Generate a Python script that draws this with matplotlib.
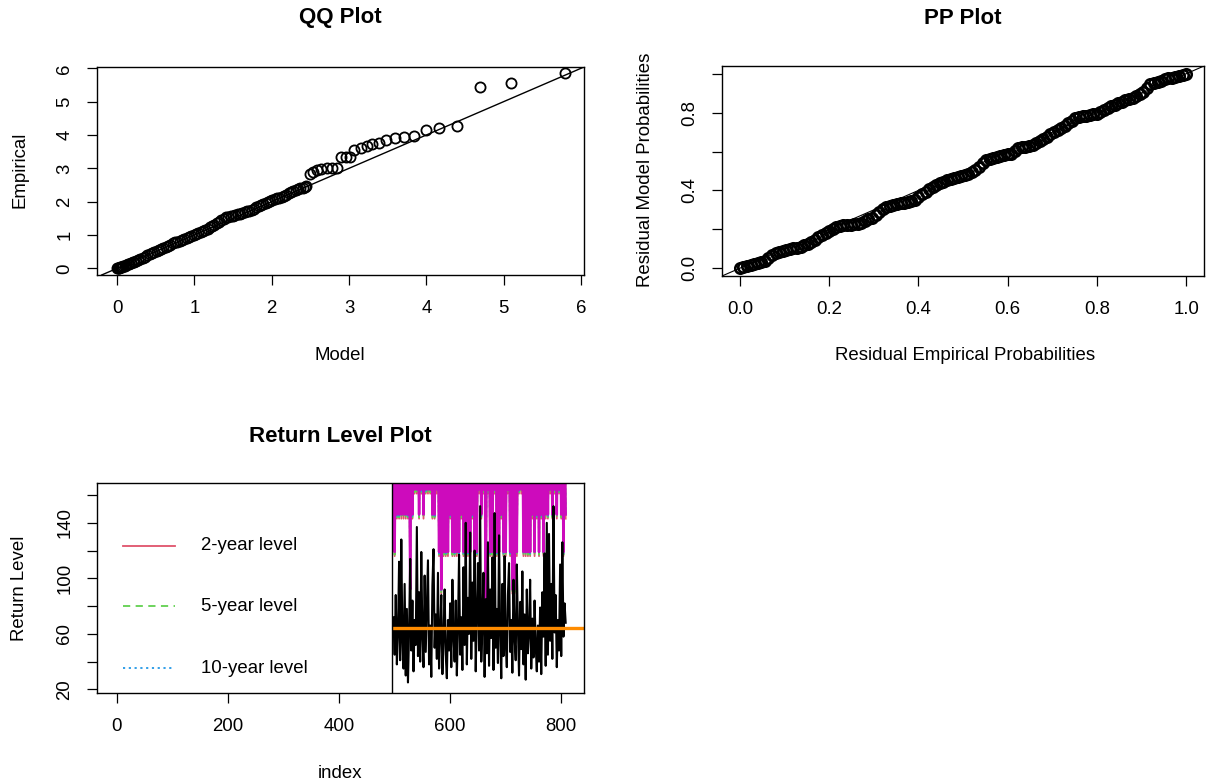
import numpy as np
import matplotlib
matplotlib.use("Agg")
import matplotlib.pyplot as plt
from matplotlib.patches import Rectangle

plt.rcParams['font.family'] = ['Liberation Sans', 'DejaVu Sans']

# ---------------- data ----------------
qq_model = [0.00, 0.01, 0.02, 0.03, 0.04, 0.05, 0.06,
            0.08, 0.10, 0.12, 0.14, 0.16, 0.18, 0.20, 0.22, 0.24,
            0.27, 0.30, 0.33, 0.36, 0.39, 0.42, 0.45, 0.48, 0.51, 0.54,
            0.57, 0.60, 0.63, 0.66, 0.69, 0.72, 0.75, 0.78, 0.81, 0.84,
            0.87, 0.90, 0.93, 0.96, 0.99, 1.02, 1.05, 1.08, 1.11, 1.14,
            1.17, 1.20, 1.23, 1.26, 1.29, 1.32, 1.35, 1.38, 1.41, 1.44,
            1.47, 1.50, 1.53, 1.56, 1.59, 1.62, 1.65, 1.68, 1.71, 1.74,
            1.77, 1.80, 1.83, 1.86, 1.89, 1.92, 1.95, 1.98, 2.01, 2.04,
            2.07, 2.10, 2.13, 2.16, 2.19, 2.22, 2.25, 2.28, 2.31, 2.34,
            2.37, 2.40, 2.43, 2.45,
            2.49, 2.53, 2.58, 2.64, 2.71, 2.78, 2.84, 2.90, 2.96, 3.01,
            3.07, 3.15, 3.23, 3.30, 3.39, 3.48, 3.59, 3.71, 3.84, 4.00,
            4.17, 4.40, 4.69, 5.10, 5.79]
qq_empirical = [0.00, 0.00, 0.01, 0.02, 0.03, 0.04, 0.05,
                0.07, 0.08, 0.10, 0.12, 0.14, 0.16, 0.18, 0.20, 0.23,
                0.26, 0.29, 0.32, 0.35, 0.39, 0.43, 0.46, 0.50, 0.53, 0.56,
                0.59, 0.62, 0.65, 0.68, 0.71, 0.75, 0.78, 0.80, 0.83, 0.86,
                0.88, 0.91, 0.95, 0.98, 1.01, 1.04, 1.07, 1.10, 1.13, 1.16,
                1.19, 1.23, 1.27, 1.31, 1.35, 1.39, 1.44, 1.49, 1.53, 1.55,
                1.57, 1.58, 1.60, 1.62, 1.64, 1.66, 1.69, 1.71, 1.73, 1.76,
                1.79, 1.83, 1.87, 1.90, 1.93, 1.97, 1.99, 2.02, 2.05, 2.08,
                2.10, 2.12, 2.14, 2.17, 2.21, 2.25, 2.28, 2.31, 2.34, 2.37,
                2.40, 2.42, 2.44, 2.46,
                2.84, 2.89, 2.96, 2.99, 3.00, 3.01, 3.02, 3.33, 3.34, 3.34,
                3.56, 3.62, 3.66, 3.74, 3.76, 3.86, 3.91, 3.94, 3.96, 4.14,
                4.21, 4.27, 5.45, 5.56, 5.85]

pp_empirical = [0.000, 0.008, 0.016, 0.024, 0.032, 0.040, 0.048, 0.056, 0.064, 0.072,
                0.080, 0.088, 0.096, 0.104, 0.112, 0.120, 0.128, 0.136, 0.144, 0.152,
                0.160, 0.168, 0.176, 0.184, 0.192, 0.200, 0.208, 0.216, 0.224, 0.232,
                0.240, 0.248, 0.256, 0.264, 0.272, 0.280, 0.288, 0.296, 0.304, 0.312,
                0.320, 0.328, 0.336, 0.344, 0.352, 0.360, 0.368, 0.376, 0.384, 0.392,
                0.400, 0.408, 0.416, 0.424, 0.432, 0.440, 0.448, 0.456, 0.464, 0.472,
                0.480, 0.488, 0.496, 0.504, 0.512, 0.520, 0.528, 0.536, 0.544, 0.552,
                0.560, 0.568, 0.576, 0.584, 0.592, 0.600, 0.608, 0.616, 0.624, 0.632,
                0.640, 0.648, 0.656, 0.664, 0.672, 0.680, 0.688, 0.696, 0.704, 0.712,
                0.720, 0.728, 0.736, 0.744, 0.752, 0.760, 0.768, 0.776, 0.784, 0.792,
                0.800, 0.808, 0.816, 0.824, 0.832, 0.840, 0.848, 0.856, 0.864, 0.872,
                0.880, 0.888, 0.896, 0.904, 0.912, 0.920, 0.928, 0.936, 0.944, 0.952,
                0.960, 0.968, 0.976, 0.984, 0.992, 1.000]
pp_model = [0.000, 0.005, 0.010, 0.016, 0.021, 0.027, 0.033, 0.039, 0.052, 0.069,
            0.076, 0.083, 0.090, 0.096, 0.099, 0.102, 0.104, 0.109, 0.118, 0.127,
            0.137, 0.147, 0.161, 0.172, 0.182, 0.191, 0.200, 0.210, 0.218, 0.220,
            0.222, 0.224, 0.226, 0.228, 0.234, 0.242, 0.251, 0.260, 0.275, 0.290,
            0.304, 0.316, 0.320, 0.325, 0.330, 0.334, 0.338, 0.343, 0.348, 0.353,
            0.366, 0.380, 0.393, 0.405, 0.417, 0.429, 0.438, 0.445, 0.452, 0.458,
            0.463, 0.467, 0.472, 0.477, 0.486, 0.496, 0.506, 0.519, 0.543, 0.557,
            0.562, 0.566, 0.571, 0.575, 0.580, 0.585, 0.590, 0.605, 0.616, 0.621,
            0.625, 0.630, 0.636, 0.645, 0.655, 0.665, 0.677, 0.688, 0.699, 0.710,
            0.722, 0.733, 0.745, 0.757, 0.771, 0.779, 0.782, 0.785, 0.788, 0.792,
            0.795, 0.804, 0.813, 0.822, 0.832, 0.841, 0.849, 0.856, 0.863, 0.870,
            0.878, 0.886, 0.896, 0.906, 0.926, 0.946, 0.952, 0.958, 0.965, 0.971,
            0.976, 0.980, 0.985, 0.990, 0.995, 1.000]

# Return-level panel: observed series (every 2nd index from 498)
rl_start = 498
rl_series = [72, 45, 88, 38, 60, 112, 41, 128, 55, 35,
             96, 30, 78, 25, 62, 114, 48, 84, 33, 70,
             52, 137, 44, 90, 40, 119, 58, 36, 102, 47,
             80, 113, 38, 66, 29, 95, 121, 50, 74, 42,
             104, 35, 60, 88, 31, 56, 92, 45, 28, 70,
             48, 82, 36, 99, 58, 40, 84, 30, 63, 117,
             45, 72, 34, 108, 52, 140, 38, 86, 60, 133,
             42, 97, 55, 120, 33, 76, 111, 48, 152, 40,
             68, 104, 29, 85, 46, 126, 37, 92, 57, 115,
             34, 147, 50, 78, 39, 131, 62, 28, 96, 44,
             116, 55, 36, 88, 111, 47, 70, 32, 99, 58,
             41, 110, 64, 30, 83, 49, 105, 38, 74, 27,
             92, 46, 60, 99, 35, 71, 43, 84, 52, 33,
             66, 40, 79, 31, 90, 58, 118, 37, 140, 45,
             132, 55, 96, 42, 152, 61, 88, 36, 70, 48,
             110, 44, 126, 58, 82, 68]
threshold = 64.5

# covariate state of the effective return levels at each step
rl_state = [int(c) for c in (
    "0302020202020204" "020101020102" "010101020201" "0304030"
    "30302030303030203030303020303" "01020105010" "303010303020303"
    "010304040301010" "303030302" "030203020302" "020102010201020302")]
level_2yr = [215, 161, 143, 116, 89, 69]
level_5yr = [216, 162, 144, 117, 90, 70]
level_10yr = [217, 163, 145, 118, 91, 71]
level_top = [218, 164, 146, 119, 92, 72]

legend_labels = ["2-year level", "5-year level", "10-year level"]

# ---------------- figure ----------------
W, H = 1206, 782
fig = plt.figure(figsize=(W / 100, H / 100), dpi=100)


def px_axes(l, t, r, b):
    return fig.add_axes([l / W, 1 - b / H, (r - l) / W, (b - t) / H])


FS = 13.4
TFS = 16


def style(ax):
    for s in ax.spines.values():
        s.set_linewidth(1.0)
    ax.tick_params(length=7, width=0.9, labelsize=FS, pad=10)
    ax.tick_params(axis='x', pad=11)
    for lbl in ax.get_yticklabels():
        lbl.set_rotation(90)
        lbl.set_va('center')


# QQ
ax1 = px_axes(97, 67, 584, 275)
ax1.plot(qq_model, qq_empirical, 'o', mfc='none', mec='black', ms=7.3, mew=1.3)
ax1.axline((0, 0), slope=1, color='black', lw=1.0)
ax1.set_xlim(-0.26, 6.04)
ax1.set_ylim(-0.2, 6.04)
ax1.set_xticks(range(7))
ax1.set_yticks(range(7))
style(ax1)

# PP
ax2 = px_axes(722, 66, 1204, 276)
ax2.plot(pp_empirical, pp_model, 'o', mfc='none', mec='black', ms=7.5, mew=1.9)
ax2.axline((0, 0), slope=1, color='black', lw=0.8)
ax2.set_xlim(-0.04, 1.04)
ax2.set_ylim(-0.04, 1.04)
ax2.set_xticks([0, 0.2, 0.4, 0.6, 0.8, 1.0])
ax2.set_xticklabels(['0.0', '0.2', '0.4', '0.6', '0.8', '1.0'])
ax2.set_yticks([0, 0.2, 0.4, 0.6, 0.8, 1.0])
ax2.set_yticklabels(['0.0', '', '0.4', '', '0.8', ''])
style(ax2)

# Return level
ax3 = px_axes(97, 483, 584, 693)
idx_lv = np.arange(rl_start, rl_start + 2 * len(rl_state), 2)
idx_obs = np.arange(rl_start, rl_start + 2 * len(rl_series), 2)
st = np.array(rl_state)
ax3.plot(idx_lv, np.array(level_2yr)[st], color='#DF536B', lw=1.3, ls='-')
ax3.plot(idx_lv, np.array(level_5yr)[st], color='#61D04F', lw=1.3, ls='--')
ax3.plot(idx_lv, np.array(level_10yr)[st], color='#2297E6', lw=1.3, ls=':')
ax3.plot(idx_lv, np.array(level_top)[st], color='#CD0BBC', lw=1.8, ls='-')
ax3.plot(idx_obs, rl_series, color='black', lw=1.5)
ax3.axhline(threshold, color='#FF8C00', lw=2.4)
ax3.set_xlim(-36, 841)
ax3.set_ylim(17.4, 168.7)
ax3.set_xticks([0, 200, 400, 600, 800])
ax3.set_yticks([20, 40, 60, 80, 100, 120, 140, 160])
ax3.set_yticklabels(['20', '', '60', '', '100', '', '140', ''])
style(ax3)

# legend box (R legend with white background covering the left of the panel)
ax3.add_patch(Rectangle((0, 0), 0.606, 1, transform=ax3.transAxes, facecolor='white',
                        edgecolor='black', lw=1.0, zorder=5))
leg_y = [0.70, 0.414, 0.119]
leg_col = ['#DF536B', '#61D04F', '#2297E6']
leg_ls = ['-', (0, (4, 3)), (0, (1.2, 2))]
for yy, c, ls, lab in zip(leg_y, leg_col, leg_ls, legend_labels):
    ax3.plot([0.053, 0.160], [yy, yy], transform=ax3.transAxes, color=c, ls=ls, lw=1.3,
             zorder=6, clip_on=False)
    ax3.text(0.2136, yy, lab, transform=ax3.transAxes, fontsize=FS, va='center', ha='left',
             zorder=6)


# titles and axis labels
def ftext(x, y, s, **kw):
    fig.text(x / W, 1 - y / H, s, ha='center', va='center', **kw)


ftext(340, 18, "QQ Plot", fontsize=TFS, fontweight='bold')
ftext(963, 18, "PP Plot", fontsize=TFS, fontweight='bold')
ftext(340, 437, "Return Level Plot", fontsize=TFS, fontweight='bold')
ftext(340, 355, "Model", fontsize=FS)
ftext(20, 170, "Empirical", fontsize=FS, rotation=90)
ftext(965, 355, "Residual Empirical Probabilities", fontsize=FS)
ftext(646, 170, "Residual Model Probabilities", fontsize=FS, rotation=90)
ftext(20, 588, "Return Level", fontsize=FS, rotation=90)
ftext(340, 773, "index", fontsize=FS)

fig.savefig("out.png", dpi=100)
